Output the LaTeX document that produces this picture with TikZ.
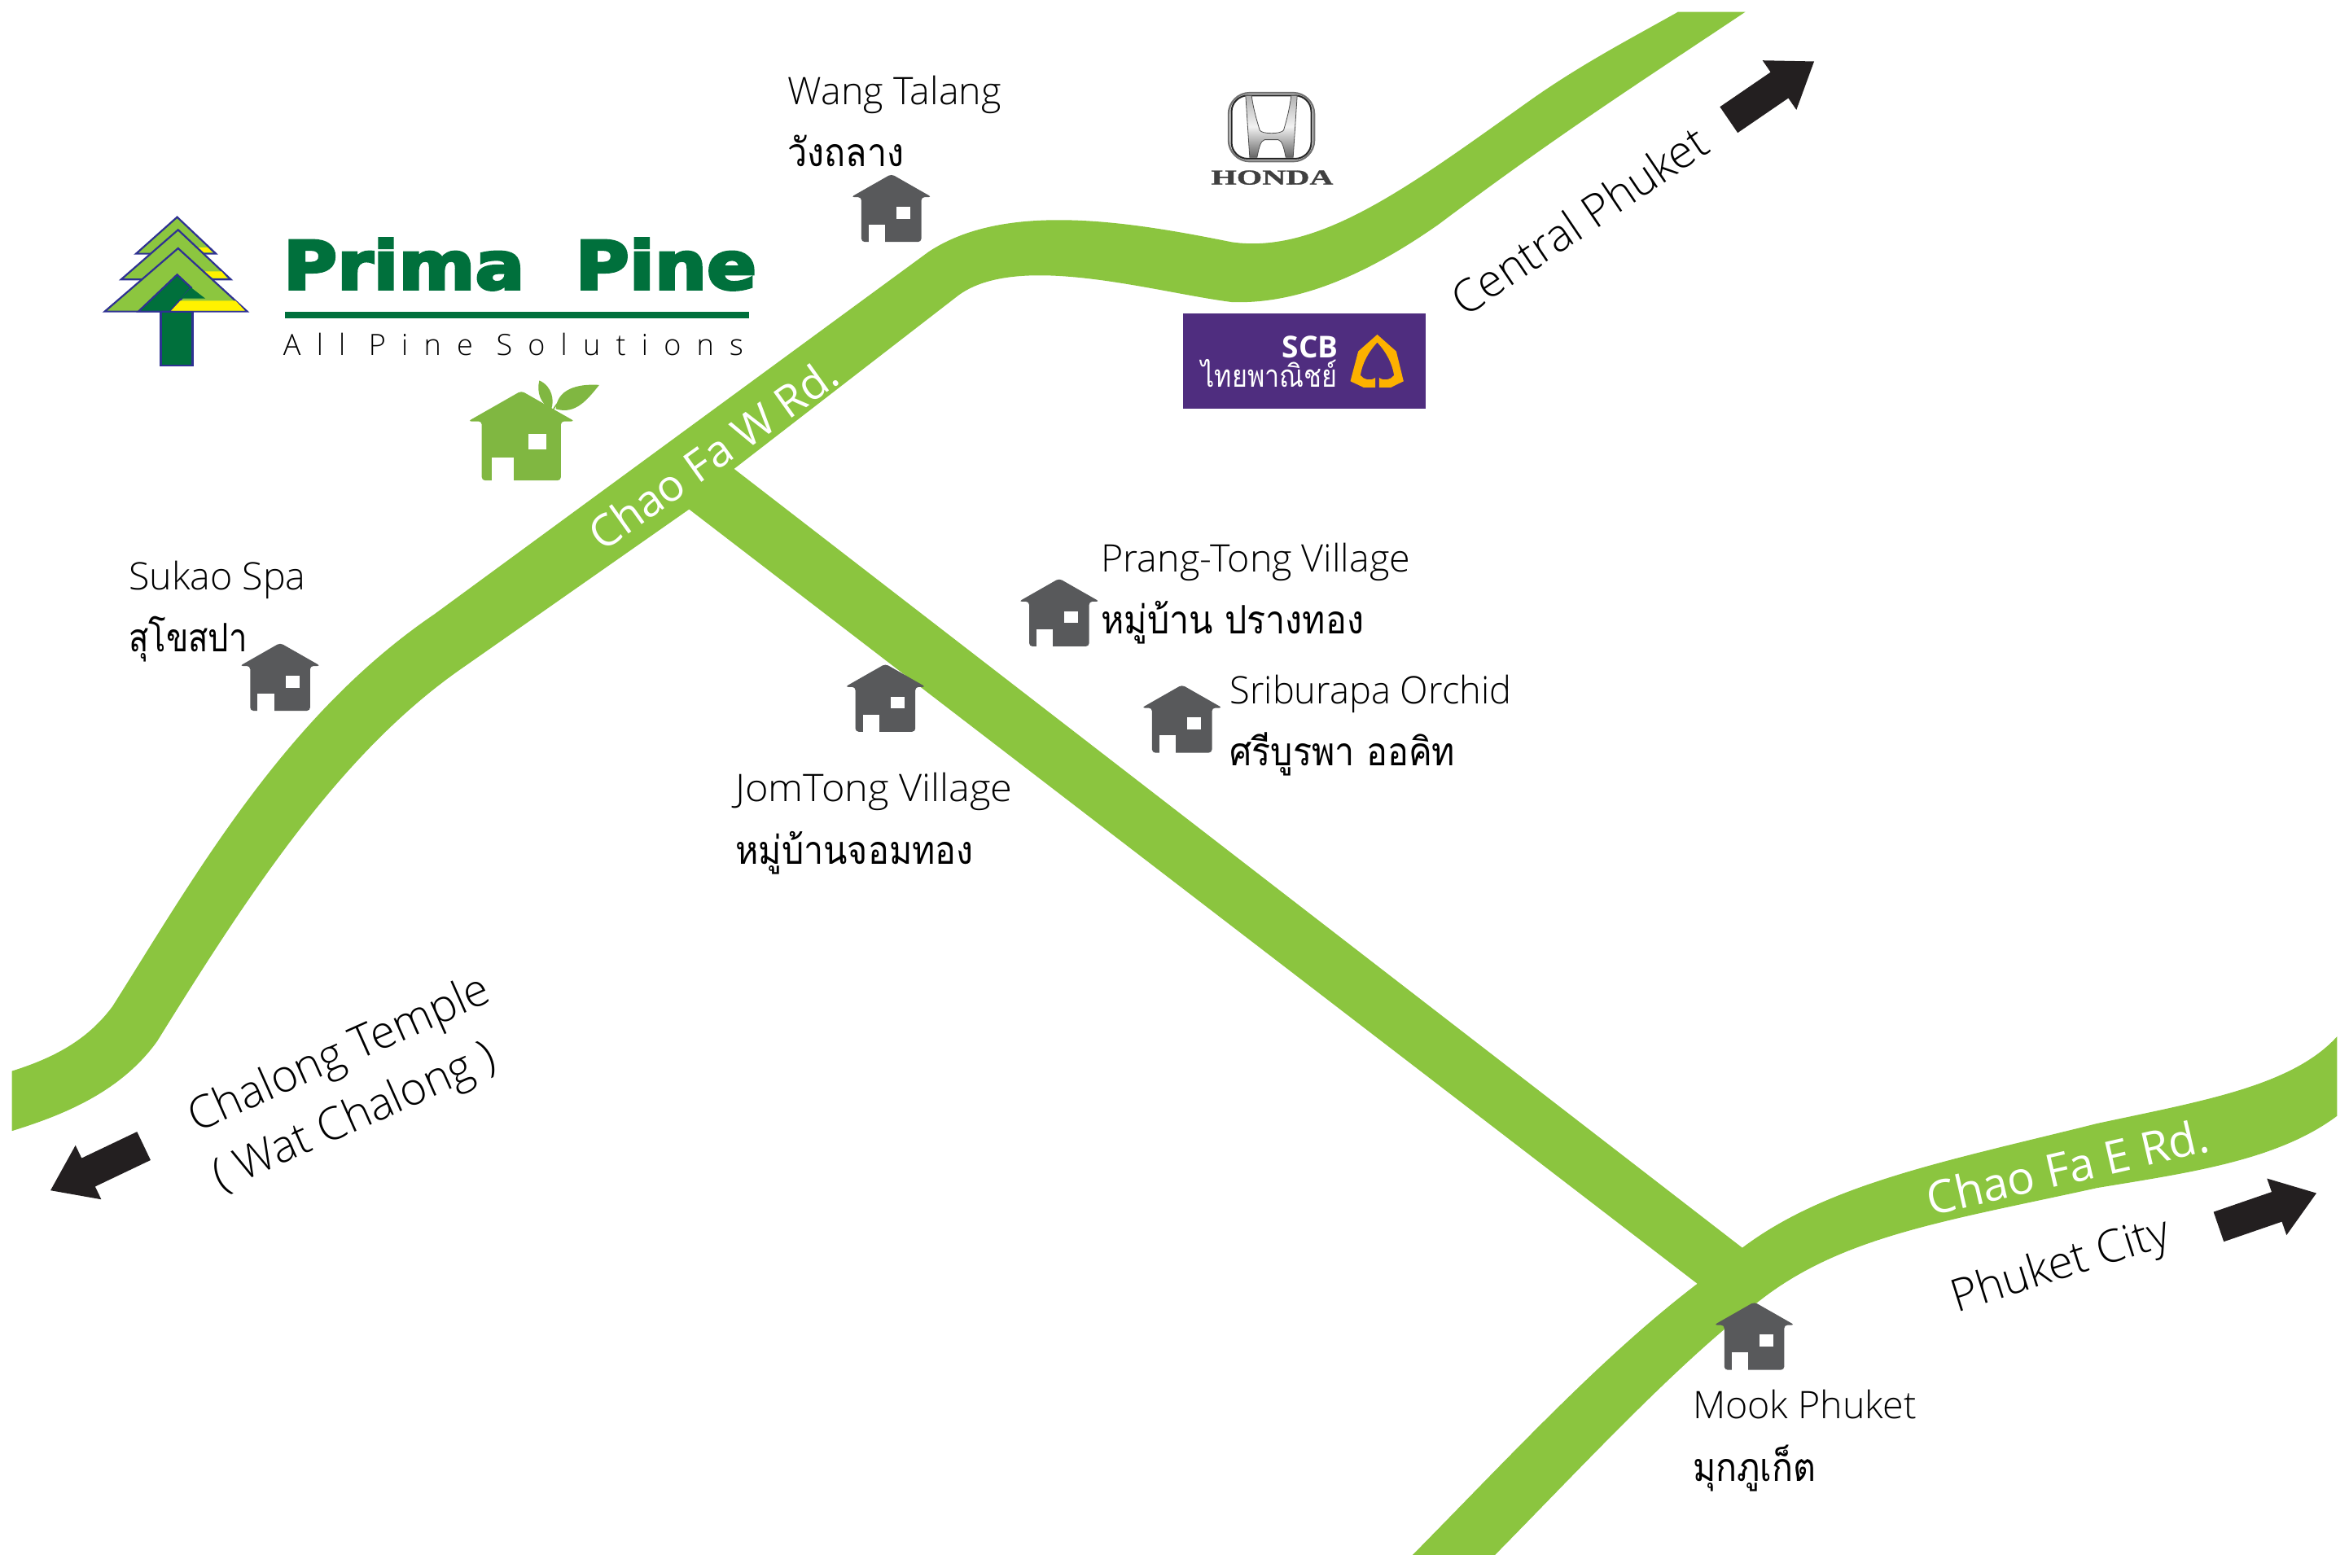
\documentclass[tikz,border=0pt]{standalone}
\usepackage{fontspec}
\setmainfont{Open Sans Light}
\newfontfamily\thaifont[Script=Thai]{Loma}
\newfontfamily\boldsans{Open Sans}[BoldFont={Open Sans Bold}]
\newfontfamily\heavy{DejaVu Sans Bold}[FakeBold=4]
\newfontfamily\lightlogo{Open Sans Light}[LetterSpace=53.5]
\newfontfamily\slab{Liberation Serif Bold}[FakeBold=1]
\definecolor{road}{HTML}{8BC53F}
\definecolor{hutgrey}{HTML}{58595B}
\definecolor{hutgreen}{HTML}{80B741}
\definecolor{pine}{HTML}{00703C}
\definecolor{navy}{HTML}{2E3192}
\definecolor{leafgreen}{HTML}{8CC63F}
\definecolor{sun}{HTML}{FFF200}
\definecolor{scbpurple}{HTML}{4F2D7F}
\definecolor{scbgold}{HTML}{FDB100}
\definecolor{arrowblack}{HTML}{231F20}
\tikzset{
  x=1.84pt,y=-1.84pt,
  lab/.style={anchor=base west,inner sep=0pt,outer sep=0pt,font=\fontsize{46.6}{50}\selectfont},
  thailab/.style={anchor=base west,inner sep=0pt,outer sep=0pt,yscale=1.12,font=\thaifont\fontsize{43}{50}\selectfont},
  rotlab/.style={anchor=center,inner sep=0pt,outer sep=0pt,font=\fontsize{55.5}{58}\selectfont},
  roadlab/.style={anchor=center,inner sep=0pt,outer sep=0pt,text=white,font=\boldsans\fontsize{54}{58}\selectfont},
  pics/hut/.style={code={
    \fill[#1,rounded corners=4pt] (0,-.8) -- (27,14.6) -- (20,14.6) -- (20,44.5) -- (-20,44.5) -- (-20,14.6) -- (-27,14.6) -- cycle;
    \fill[white] (-15,33) rectangle (-4,45);
    \fill[white] (3.6,21) rectangle (12.8,29);
  }},
  pics/blockarrow/.style={code={
    \fill[arrowblack] (0,-10.5) -- (41,-10.5) -- (41,-20) -- (69,0) -- (41,20) -- (41,10.5) -- (0,10.5) -- cycle;
  }},
  treeline/.style={draw=navy,line width=2.2pt,line join=miter},
}
\begin{document}
\begin{tikzpicture}
\useasboundingbox (0,0) rectangle (1568,1046.74);
% roads
\fill[road] (8,715) .. controls (40,705) and (60,692) .. (75,672)
  .. controls (130,585) and (190,478) .. (290,410) -- (620,168)
  .. controls (670,135) and (750,147) .. (822,161.6)
  .. controls (880,170) and (940,125) .. (1020,68)
  .. controls (1055,43) and (1090,25) .. (1120,8) -- (1165,8)
  .. controls (1090,58) and (1040,90) .. (960,150)
  .. controls (910,185) and (865,203) .. (822.4,201.7)
  .. controls (770,195) and (680,168) .. (640,197)
  -- (490,313) -- (1163,833)
  .. controls (1220,790) and (1300,775) .. (1400,750)
  .. controls (1470,735) and (1530,725) .. (1560,692) -- (1560,745)
  .. controls (1520,775) and (1460,783) .. (1400,793)
  .. controls (1300,815) and (1230,825) .. (1175,868)
  .. controls (1120,910) and (1060,975) .. (998,1038) -- (943,1038)
  .. controls (1010,970) and (1070,905) .. (1133,857)
  -- (460,340) -- (310,445)
  .. controls (230,500) and (170,590) .. (105,695)
  .. controls (80,730) and (40,745) .. (8,755) -- cycle;
% road labels
\node[roadlab,rotate=35.5] (chaow) at (476,303) {Chao Fa W Rd.};
\node[roadlab,rotate=13,font=\boldsans\fontsize{56}{58}\selectfont] (chaoe) at (1380,779) {Chao Fa E Rd.};
% direction labels
\node[rotlab,rotate=34] (central) at (1054,147) {Central Phuket};
\node[rotlab,rotate=24] (chalong) at (227,705) {Chalong Temple};
\node[rotlab,rotate=24] (wat) at (237,747) {( Wat Chalong )};
\node[rotlab,rotate=17.5] (city) at (1376,846) {Phuket City};
% arrows
\pic at (1154,80) [rotate=34.4] {blockarrow};
\pic at (96,765) [rotate=205.5] {blockarrow};
\pic at (1481,819) [rotate=19] {blockarrow};
% grey houses
\pic at (595,117) {hut=hutgrey};
\pic at (187,430) {hut=hutgrey};
\pic at (591,444) {hut=hutgrey};
\pic at (707,387) {hut=hutgrey};
\pic at (789,458) {hut=hutgrey};
\pic at (1171,870) {hut=hutgrey};
% green house and leaves
\pic at (348,262) [scale=1.32] {hut=hutgreen};
\fill[hutgreen] (360,254) .. controls (369,258) and (370,268) .. (368,273) .. controls (361,270) and (358,262) .. (360,254) -- cycle;
\fill[hutgreen] (400,257) .. controls (385,256) and (372,260) .. (371,273) .. controls (384,277) and (392,267) .. (400,257) -- cycle;
\draw[hutgreen,line width=1.6pt] (367,280) .. controls (369,272) and (372,268) .. (380,263);
% labels
\node[lab] (n1) at (526,70) {Wang Talang};
\node[thailab] (n1t) at (526,111) {วังถลาง};
\node[lab] (n2) at (86,394) {Sukao Spa};
\node[thailab,xscale=.93] (n2t) at (86,435) {สุโขสปา};
\node[lab,xscale=1.045] (n3) at (491,535) {JomTong Village};
\node[thailab] (n3t) at (491,577) {หมู่บ้านจอมทอง};
\node[lab] (n4) at (735,382) {Prang-Tong Village};
\node[thailab] (n4t) at (735,423) {หมู่บ้าน ปรางทอง};
\node[lab,xscale=.97] (n5) at (821,470) {Sriburapa Orchid};
\node[thailab] (n5t) at (821,511) {ศรีบูรพา ออคิท};
\node[lab] (n6) at (1130,947) {Mook Phuket};
\node[thailab] (n6t) at (1130,989) {มุกภูเก็ต};
% tree logo, in crop coordinates
\begin{scope}[shift={(54.3,125)},x=.574pt,y=-.3333pt]
  \fill[pine,treeline] (170,458) rectangle (238,657);
  \filldraw[fill=leafgreen,treeline] (205,110) -- (288,245) -- (117,245) -- cycle;
  \fill[sun] (250,222) -- (270,222) -- (280,240) -- (262,240) -- cycle;
  \filldraw[fill=leafgreen,treeline] (207,157) -- (320,340) -- (85,340) -- cycle;
  \fill[sun] (262,310) -- (300,310) -- (312,335) -- (282,335) -- cycle;
  \filldraw[fill=leafgreen,treeline] (207,225) -- (355,458) -- (50,458) -- cycle;
  \filldraw[fill=pine,treeline] (205,322) -- (235,370) -- (190,458) -- (122,458) -- cycle;
  \filldraw[fill=pine,draw=none] (235,370) -- (265,410) -- (212,410) -- cycle;
  \fill[sun] (212,418) -- (330,418) -- (350,455) -- (192,455) -- cycle;
\end{scope}
\node[anchor=base west,inner sep=0pt,text=pine,font=\heavy\fontsize{82}{84}\selectfont,xscale=1.1] (prima) at (189,193) {Prima};
\node[anchor=base west,inner sep=0pt,text=pine,font=\heavy\fontsize{82}{84}\selectfont,xscale=1.1] (pine) at (384,193) {Pine};
\fill[pine] (190,208) rectangle (500,212.5);
\node[anchor=base west,inner sep=0pt,text=black,font=\lightlogo\fontsize{36}{40}\selectfont] (slogan) at (189,237) {All Pine Solutions};
% Honda and SCB, in crop coordinates
\begin{scope}[shift={(771.7,48.9)},x=.3333pt,y=-.3333pt]
  \draw[draw=black!55,fill=black!12,line width=2.2pt,rounded corners=26pt] (267,72) rectangle (583,325);
  \draw[draw=black!85,fill=white,line width=2pt,rounded corners=20pt] (278,82) rectangle (572,315);
  \shade[top color=black!30,bottom color=black!60,middle color=black!5,draw=black!70,line width=.8pt]
    (330,82) -- (352,82) .. controls (358,130) and (370,170) .. (382,210) .. controls (390,225) and (460,225) .. (470,210)
    .. controls (482,170) and (492,130) .. (498,82) -- (520,82) -- (505,310) -- (478,310) .. controls (470,270) and (465,250) .. (450,245)
    -- (400,245) .. controls (385,250) and (380,270) .. (372,310) -- (345,310) -- cycle;
  \node[anchor=base,inner sep=0pt,text=black!75,font=\slab\fontsize{26}{28}\selectfont,xscale=1.55] (honda) at (428,410) {HONDA};
  \fill[scbpurple] (98,884) rectangle (992,1235);
  \node[anchor=base east,inner sep=0pt,text=white,font=\boldsans\bfseries\fontsize{37}{38}\selectfont] (scb) at (672,1048) {SCB};
  \node[anchor=base east,inner sep=0pt,text=white,font=\thaifont\fontsize{38}{40}\selectfont,xscale=.85] (scbt) at (668,1157) {ไทยพาณิชย์};
  \fill[scbgold] (815,963) -- (885,1025) -- (912,1135) -- (865,1158) -- (822,1158) -- (822,1122)
    .. controls (840,1135) and (865,1130) .. (877,1113) .. controls (870,1070) and (850,1030) .. (815,992)
    .. controls (780,1030) and (760,1070) .. (753,1113) .. controls (765,1130) and (790,1135) .. (808,1122)
    -- (808,1158) -- (765,1158) -- (716,1135) -- (745,1025) -- cycle;
\end{scope}
\end{tikzpicture}
\end{document}
